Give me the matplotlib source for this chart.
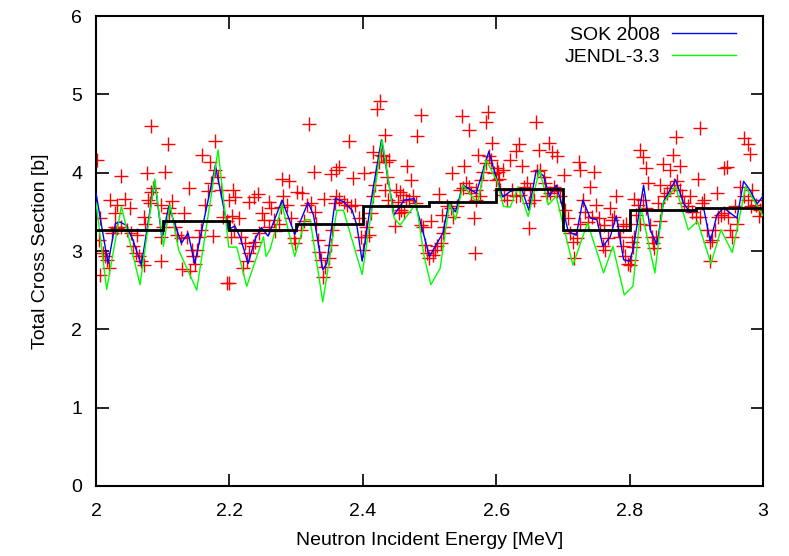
import matplotlib
matplotlib.use("Agg")
import matplotlib.pyplot as plt
import numpy as np

plt.rcParams['font.family'] = ['Liberation Sans', 'DejaVu Sans']

# measured points (red crosses)
exp_x = [
    2.083, 2.108, 2.179, 2.002, 2.159, 2.171, 2.038, 2.077, 2.104, 2.139, 2.196, 2.006, 2.129, 2.141, 2.098, 2.132, 2.176,
    2.021, 2.031, 2.043, 2.051, 2.028, 2.006, 2.004, 2.011, 2.016, 2.019, 2.014, 2.024, 2.029, 2.032, 2.037, 2.046, 2.052,
    2.061, 2.056, 2.060, 2.065, 2.068, 2.072, 2.073, 2.072, 2.078, 2.082, 2.086, 2.081, 2.098, 2.101, 2.097, 2.109, 2.114,
    2.110, 2.119, 2.122, 2.128, 2.136, 2.144, 2.146, 2.149, 2.151, 2.154, 2.158, 2.163, 2.168, 2.173, 2.179, 2.183, 2.188,
    2.191, 2.196, 2.199, 2.202,
    2.320, 2.380, 2.327, 2.360, 2.352, 2.364, 2.385, 2.402, 2.279, 2.290, 2.205, 2.209, 2.243, 2.229, 2.237, 2.302, 2.309,
    2.342, 2.199, 2.220,
    2.204, 2.214, 2.207, 2.217, 2.224, 2.230, 2.227, 2.235, 2.239, 2.244, 2.249, 2.252, 2.259, 2.263, 2.267, 2.259, 2.269,
    2.274, 2.277, 2.280, 2.287, 2.292, 2.297, 2.298, 2.307, 2.312, 2.317, 2.322, 2.328, 2.330, 2.333, 2.335, 2.338, 2.340,
    2.344, 2.349, 2.352, 2.354, 2.358, 2.360, 2.365, 2.372, 2.377, 2.383, 2.389, 2.394, 2.398, 2.400,
    2.426, 2.421, 2.488, 2.548, 2.588, 2.584, 2.559, 2.433, 2.481, 2.594, 2.415, 2.573, 2.466, 2.473, 2.533, 2.552, 2.515,
    2.566, 2.568, 2.503, 2.449, 2.490,
    2.403, 2.405, 2.409, 2.413, 2.415, 2.418, 2.420, 2.424, 2.428, 2.430, 2.435, 2.440, 2.436, 2.434, 2.438, 2.444, 2.450,
    2.456, 2.460, 2.453, 2.458, 2.465, 2.470, 2.475, 2.454, 2.462, 2.480, 2.488, 2.493, 2.496, 2.500, 2.505, 2.509, 2.512,
    2.517, 2.520, 2.522, 2.519, 2.527, 2.532, 2.535, 2.541, 2.545, 2.550, 2.555, 2.559, 2.562, 2.570, 2.569, 2.576, 2.577,
    2.580, 2.584, 2.589, 2.592, 2.596, 2.599, 2.602,
    2.659, 2.634, 2.679, 2.629, 2.664, 2.684, 2.691, 2.621, 2.638, 2.724, 2.725, 2.746, 2.701, 2.741, 2.780, 2.649, 2.716,
    2.601, 2.610,
    2.604, 2.606, 2.611, 2.616, 2.624, 2.629, 2.636, 2.641, 2.646, 2.651, 2.649, 2.656, 2.661, 2.666, 2.671, 2.673, 2.676,
    2.680, 2.686, 2.691, 2.696, 2.703, 2.707, 2.711, 2.715, 2.721, 2.726, 2.730, 2.733, 2.738, 2.743, 2.750, 2.754, 2.756,
    2.760, 2.763, 2.768, 2.771, 2.773, 2.777, 2.782, 2.786, 2.790, 2.793, 2.797, 2.801, 2.803, 2.795, 2.790, 2.761,
    2.906, 2.870, 2.971, 2.977, 2.981, 2.815, 2.820, 2.865, 2.825, 2.850, 2.860, 2.876, 2.942, 2.946, 2.902, 2.827, 2.845,
    2.921, 2.802, 2.837,
    2.807, 2.812, 2.810, 2.806, 2.805, 2.815, 2.820, 2.825, 2.830, 2.833, 2.835, 2.840, 2.845, 2.842, 2.847, 2.852, 2.856,
    2.861, 2.866, 2.871, 2.875, 2.879, 2.882, 2.888, 2.891, 2.894, 2.899, 2.906, 2.908, 2.912, 2.916, 2.920, 2.924, 2.928,
    2.931, 2.933, 2.937, 2.942, 2.947, 2.951, 2.954, 2.958, 2.961, 2.966, 2.972, 2.977, 2.982, 2.984, 2.989, 2.994, 2.999,
    2.996,
]
exp_y = [
    4.60, 4.37, 4.40, 4.16, 4.23, 4.13, 3.96, 3.99, 4.01, 3.81, 2.59, 2.69, 2.77, 2.74, 2.87, 3.48, 3.19,
    3.65, 3.59, 3.66, 3.55, 3.48, 3.42, 3.14, 2.97, 2.89, 2.78, 2.93, 3.23, 3.31, 3.29, 3.31, 3.27, 3.23,
    3.21, 3.06, 2.97, 2.93, 2.87, 2.82, 3.35, 3.43, 3.65, 3.75, 3.80, 3.61, 3.18, 3.31, 3.59, 3.55, 3.64,
    3.48, 3.31, 3.21, 3.16, 3.18, 3.01, 2.93, 2.84, 3.01, 3.18, 3.27, 3.59, 3.76, 3.87, 4.03, 3.95, 3.78,
    3.44, 3.38, 3.65, 3.18,
    4.62, 4.40, 4.01, 4.04, 3.98, 4.07, 3.93, 4.00, 3.92, 3.89, 3.78, 3.69, 3.73, 3.63, 3.69, 3.75, 3.74,
    3.67, 2.59, 2.78,
    3.45, 3.42, 3.27, 3.18, 3.10, 2.97, 2.87, 3.06, 3.11, 3.23, 3.48, 3.40, 3.63, 3.55, 3.40, 3.31, 3.25,
    3.35, 3.56, 3.70, 3.59, 3.42, 3.16, 3.10, 3.27, 3.38, 3.59, 3.61, 3.50, 3.35, 3.14, 2.99, 2.89, 2.67,
    2.80, 2.91, 3.08, 3.27, 3.61, 3.70, 3.66, 3.63, 3.59, 3.57, 3.59, 3.42, 3.18, 3.01,
    4.91, 4.81, 4.73, 4.72, 4.77, 4.65, 4.54, 4.48, 4.47, 4.38, 4.27, 4.23, 4.09, 3.91, 3.99, 4.09, 3.73,
    3.42, 2.97, 3.38, 3.32, 3.31,
    3.18, 3.31, 3.21, 3.48, 3.70, 3.84, 4.01, 4.14, 4.23, 4.21, 4.14, 4.16, 3.95, 3.78, 3.65, 3.59, 3.78,
    3.75, 3.72, 3.63, 3.52, 3.65, 3.65, 3.70, 3.48, 3.50, 3.61, 3.33, 3.08, 2.97, 2.91, 2.95, 3.01, 3.06,
    3.10, 3.23, 3.31, 3.46, 3.57, 3.55, 3.44, 3.57, 3.78, 3.80, 3.87, 3.82, 3.74, 3.78, 3.65, 3.70, 3.91,
    4.01, 4.12, 4.21, 4.16, 3.99, 3.91, 4.01,
    4.65, 4.37, 4.38, 4.28, 4.29, 4.27, 4.21, 4.16, 4.08, 4.13, 4.04, 4.01, 3.97, 3.82, 3.70, 3.30, 2.91,
    4.06, 4.04,
    3.92, 3.78, 3.72, 3.65, 3.78, 3.70, 3.72, 3.82, 3.87, 3.78, 3.61, 3.65, 4.02, 4.04, 3.95, 3.87, 3.70,
    3.74, 3.82, 3.76, 3.70, 3.52, 3.42, 3.23, 3.12, 3.16, 3.35, 3.65, 3.50, 3.37, 3.44, 3.59, 3.42, 3.27,
    3.06, 3.01, 3.16, 3.55, 3.40, 3.44, 3.27, 3.18, 3.06, 2.93, 2.84, 2.82, 3.12, 3.35, 3.32, 3.33,
    4.57, 4.45, 4.44, 4.37, 4.24, 4.29, 4.20, 4.23, 4.06, 4.11, 4.04, 4.09, 4.06, 4.07, 3.92, 3.87, 3.84,
    2.87, 2.89, 3.04,
    3.67, 3.59, 3.46, 3.18, 3.05, 3.35, 3.65, 3.55, 3.33, 3.18, 3.10, 3.18, 3.38, 3.61, 3.52, 3.70, 3.74,
    3.80, 3.84, 3.89, 3.78, 3.70, 3.61, 3.57, 3.70, 3.50, 3.44, 3.44, 3.61, 3.65, 3.27, 3.12, 3.14, 3.27,
    3.74, 3.44, 3.46, 3.48, 3.44, 3.27, 3.18, 3.57, 3.35, 3.82, 3.70, 3.65, 3.57, 3.78, 3.59, 3.45, 3.65,
    3.52,
]

# SOK 2008 evaluation (blue)
sok_x = [2.000, 2.018, 2.029, 2.036, 2.045, 2.055, 2.068, 2.088, 2.099, 2.109, 2.128, 2.138, 2.148, 2.179, 2.198,
         2.208, 2.216, 2.228, 2.239, 2.248, 2.258, 2.279, 2.298, 2.318, 2.326, 2.340, 2.346, 2.359, 2.371, 2.384,
         2.391, 2.399, 2.415, 2.428, 2.447, 2.462, 2.477, 2.500, 2.520, 2.529, 2.539, 2.550, 2.570, 2.589, 2.601,
         2.610, 2.621, 2.638, 2.649, 2.660, 2.671, 2.680, 2.690, 2.698, 2.708, 2.720, 2.730, 2.741, 2.751, 2.760,
         2.771, 2.780, 2.791, 2.800, 2.805, 2.821, 2.831, 2.841, 2.851, 2.869, 2.881, 2.891, 2.902, 2.911, 2.921,
         2.931, 2.941, 2.961, 2.971, 2.981, 2.991, 3.000]
sok_y = [3.74, 2.84, 3.35, 3.37, 3.33, 3.15, 2.82, 3.90, 3.16, 3.57, 3.10, 3.23, 2.84, 4.09, 3.27,
         3.32, 3.18, 2.84, 3.16, 3.30, 3.19, 3.65, 3.21, 3.62, 3.46, 2.76, 2.84, 3.67, 3.63, 3.52,
         3.33, 2.87, 3.78, 4.42, 3.46, 3.65, 3.67, 2.93, 3.23, 3.61, 3.50, 3.84, 3.74, 4.27, 3.91,
         3.69, 3.76, 3.80, 3.52, 4.03, 3.96, 3.70, 3.84, 3.61, 3.25, 3.20, 3.65, 3.42, 3.40, 3.06,
         3.18, 3.45, 2.89, 2.87, 3.01, 3.84, 3.27, 3.08, 3.63, 3.91, 3.61, 3.49, 3.55, 3.55, 3.12,
         3.46, 3.55, 3.42, 3.89, 3.77, 3.60, 3.70]

# JENDL-3.3 evaluation (green)
jendl_x = [2.000, 2.016, 2.038, 2.066, 2.088, 2.101, 2.111, 2.124, 2.151, 2.183, 2.199, 2.211, 2.226, 2.251,
           2.255, 2.261, 2.279, 2.298, 2.314, 2.321, 2.340, 2.349, 2.361, 2.371, 2.399, 2.429, 2.447, 2.456,
           2.480, 2.492, 2.502, 2.516, 2.530, 2.539, 2.550, 2.572, 2.585, 2.601, 2.611, 2.621, 2.633, 2.648,
           2.665, 2.678, 2.690, 2.715, 2.737, 2.761, 2.775, 2.792, 2.805, 2.817, 2.838, 2.850, 2.869, 2.888,
           2.902, 2.922, 2.937, 2.954, 2.974, 3.000]
jendl_y = [3.62, 2.51, 3.57, 2.57, 3.92, 3.06, 3.59, 3.01, 2.50, 4.29, 3.05, 3.05, 2.55, 3.18,
           2.93, 3.02, 3.59, 2.93, 3.40, 3.40, 2.35, 2.84, 3.52, 3.52, 2.70, 4.42, 3.42, 3.33,
           3.61, 2.93, 2.57, 2.78, 3.61, 3.40, 3.84, 3.61, 4.16, 3.90, 3.57, 3.56, 3.82, 3.44,
           4.04, 3.59, 3.70, 2.82, 3.36, 2.72, 3.06, 2.44, 2.55, 3.55, 2.72, 3.61, 3.82, 3.27,
           3.38, 2.84, 3.27, 2.98, 3.82, 3.45]

# 0.1 MeV averages (black histogram)
bin_edges = [2.0, 2.1, 2.2, 2.3, 2.4, 2.5, 2.6, 2.7, 2.8, 2.9, 3.0]
bin_avg = [3.27, 3.38, 3.27, 3.35, 3.58, 3.62, 3.79, 3.27, 3.52, 3.55]

fig = plt.figure(figsize=(7.89, 5.56), dpi=100)
ax = fig.add_axes([0.1217, 0.1259, 0.8453, 0.8453])

ax.plot(exp_x, exp_y, '+', color='#ff0000', markersize=10, markeredgewidth=1.0, zorder=2)
ax.plot(sok_x, sok_y, '-', color='#0000ff', lw=1.0, label='SOK 2008', zorder=3)
ax.plot(jendl_x, jendl_y, '-', color='#00ff00', lw=1.0, label='JENDL-3.3', zorder=3)
ax.stairs(bin_avg, bin_edges, baseline=None, color='black', lw=2.0, zorder=4)

ax.set_xlim(2, 3)
ax.set_ylim(0, 6)
ax.set_xticks([2, 2.2, 2.4, 2.6, 2.8, 3])
ax.set_xticklabels(['2', '2.2', '2.4', '2.6', '2.8', '3'])
ax.set_yticks(range(7))
ax.tick_params(direction='in', length=9, width=1.2, top=True, right=True, labelsize=14)
ax.tick_params(axis='x', pad=12)
ax.tick_params(axis='y', pad=10)
for s in ax.spines.values():
    s.set_linewidth(1.5)

ax.set_xlabel('Neutron Incident Energy [MeV]', fontsize=14, labelpad=9)
ax.set_ylabel('Total Cross Section [b]', fontsize=14, labelpad=16)

ax.legend(loc='upper right', bbox_to_anchor=(0.9715, 0.995), borderaxespad=0,
          frameon=False, markerfirst=False, fontsize=14,
          handlelength=3.3, handletextpad=0.62, labelspacing=0.22)

fig.savefig('out.png', dpi=100)
